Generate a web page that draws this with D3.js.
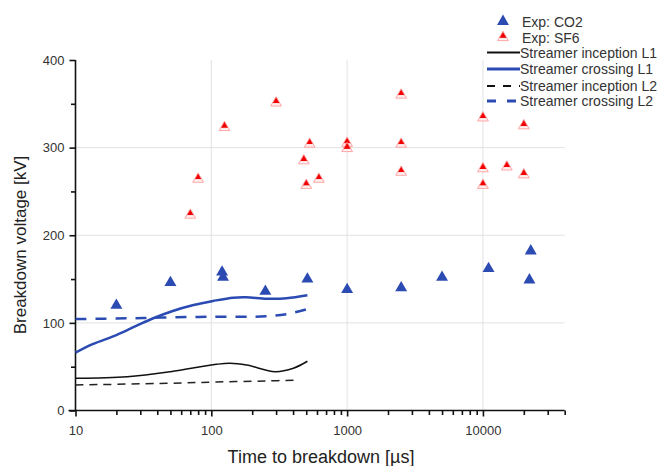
<!DOCTYPE html>
<html>
<head>
<meta charset="utf-8">
<script src="https://cdn.jsdelivr.net/npm/d3@7"></script>
<style>
  body { margin: 0; background: #fff; }
  svg { font-family: Arial, "Liberation Sans", sans-serif; }
</style>
</head>
<body>
<svg width="657" height="466"></svg>
<script>
// experiment: CO2 (time in µs, voltage in kV)
var co2Time = [20, 50, 120, 122, 250, 510, 1000, 2500, 5000, 11000, 22000, 22500];
var co2Volt = [120, 146, 158, 152, 136, 150, 138, 140, 152, 162, 149, 182];

// experiment: SF6
var sf6Time = [70, 80, 125, 300, 480, 500, 530, 620, 1000, 1000, 2500, 2500, 2500, 10000, 10000, 10000, 15000, 20000, 20000];
var sf6Volt = [223, 264, 323, 351, 285, 257, 304, 264, 305, 299, 360, 304, 272, 334, 276, 257, 278, 325, 269];

// model curves
var incL1Time = [10, 24, 50, 109, 137, 182, 295, 402, 510];
var incL1Volt = [36.8, 38.6, 44.3, 52.7, 53.9, 51.9, 44.3, 48.2, 56.2];
var crossL1Time = [10, 13.5, 20, 28, 37, 52, 74, 103, 145, 181, 256, 358, 510];
var crossL1Volt = [66, 76, 86, 96.5, 105, 113.6, 120.4, 125, 128.8, 129.2, 127.6, 128.1, 131.5];
var incL2Time = [10, 50, 109, 251, 430];
var incL2Volt = [29.1, 31.1, 32.5, 33.7, 34.8];
var crossL2Time = [10, 24, 42, 98, 251, 358, 505];
var crossL2Volt = [104.4, 105.2, 106, 107, 107.5, 110, 115.5];

var xTicks = [10, 100, 1000, 10000];
var yTicks = [0, 100, 200, 300, 400];

var blue = "#2b4bb3";
var svg = d3.select("svg");

var x = d3.scaleLog().domain([10, 40000]).range([75.5, 564.7]);
var y = d3.scaleLinear().domain([0, 400]).range([410.5, 60]);

// gridlines
var grid = svg.append("g").attr("stroke", "#e2e2e2").attr("stroke-width", 1);
grid.selectAll(".gx").data([100, 1000, 10000]).enter().append("line")
    .attr("x1", function(d) { return x(d); }).attr("x2", function(d) { return x(d); })
    .attr("y1", y(400)).attr("y2", y(0));
grid.selectAll(".gy").data([100, 200, 300]).enter().append("line")
    .attr("x1", x(10)).attr("x2", x(40000))
    .attr("y1", function(d) { return y(d); }).attr("y2", function(d) { return y(d); });

// axes
var minorX = [];
[10, 100, 1000, 10000].forEach(function(b) {
    for (var k = 2; k <= 9; k++) if (b * k <= 40000) minorX.push(b * k);
});

var xAxis = svg.append("g")
    .attr("transform", "translate(0," + y(0) + ")")
    .call(d3.axisBottom(x).tickValues(xTicks).tickFormat(d3.format("d")).tickSize(6).tickPadding(9));
svg.append("g")
    .attr("transform", "translate(0," + y(0) + ")")
    .call(d3.axisBottom(x).tickValues(minorX).tickFormat("").tickSize(4.5))
    .select(".domain").remove();

var yAxis = svg.append("g")
    .attr("transform", "translate(" + x(10) + ",0)")
    .call(d3.axisLeft(y).tickValues(yTicks).tickSize(6).tickPadding(5));
svg.append("g")
    .attr("transform", "translate(" + x(10) + ",0)")
    .call(d3.axisLeft(y).tickValues([50, 150, 250, 350]).tickFormat("").tickSize(4.5))
    .select(".domain").remove();

svg.selectAll(".domain").attr("stroke", "#111").attr("stroke-width", 1.6);
svg.selectAll(".tick line").attr("stroke", "#111").attr("stroke-width", 1.6);
svg.selectAll(".tick text").attr("fill", "#333").style("font-size", "13px")
    .style("font-family", "Arial, 'Liberation Sans', sans-serif");
xAxis.select(".domain").attr("d", "M" + (x(10) - 7) + ",0H" + x(40000));
yAxis.select(".domain").attr("d", "M0," + y(400) + "V" + y(0));

// axis titles
svg.append("text")
    .attr("x", 321).attr("y", 463)
    .attr("text-anchor", "middle")
    .attr("fill", "#222").style("font-size", "18px")
    .text("Time to breakdown [µs]");
svg.append("text")
    .attr("transform", "translate(26,245) rotate(-90)")
    .attr("text-anchor", "middle")
    .attr("fill", "#222").style("font-size", "17px")
    .text("Breakdown voltage [kV]");

// curves
var line = d3.line()
    .x(function(d) { return x(d[0]); })
    .y(function(d) { return y(d[1]); })
    .curve(d3.curveCatmullRom.alpha(0.5));

function pairs(t, v) { return t.map(function(d, i) { return [d, v[i]]; }); }

var curves = [
    { data: pairs(incL2Time, incL2Volt), color: "#222", width: 1.5, dash: "8,6" },
    { data: pairs(incL1Time, incL1Volt), color: "#111", width: 1.5, dash: null },
    { data: pairs(crossL2Time, crossL2Volt), color: blue, width: 2.5, dash: "11,9" },
    { data: pairs(crossL1Time, crossL1Volt), color: blue, width: 2.5, dash: null }
];
svg.selectAll(".curve").data(curves).enter().append("path")
    .attr("class", "curve")
    .attr("d", function(d) { return line(d.data); })
    .attr("fill", "none")
    .attr("stroke", function(d) { return d.color; })
    .attr("stroke-width", function(d) { return d.width; })
    .attr("stroke-dasharray", function(d) { return d.dash; });

// markers
var defs = svg.append("defs");
var grad = defs.append("linearGradient").attr("id", "sf6grad")
    .attr("x1", 0).attr("y1", 0).attr("x2", 0).attr("y2", 1);
grad.append("stop").attr("offset", "0%").attr("stop-color", "#f00000");
grad.append("stop").attr("offset", "66%").attr("stop-color", "#f00000");
grad.append("stop").attr("offset", "70%").attr("stop-color", "#ffe0e0");
grad.append("stop").attr("offset", "100%").attr("stop-color", "#ffffff");

var tri = d3.symbol().type(d3.symbolTriangle).size(50);

svg.selectAll(".sf6").data(pairs(sf6Time, sf6Volt)).enter().append("path")
    .attr("class", "sf6")
    .attr("d", tri)
    .attr("transform", function(d) { return "translate(" + x(d[0]) + "," + y(d[1]) + ")"; })
    .attr("fill", "url(#sf6grad)")
    .attr("stroke", "#ff9a9a").attr("stroke-width", 0.9);

svg.selectAll(".co2").data(pairs(co2Time, co2Volt)).enter().append("path")
    .attr("class", "co2")
    .attr("d", d3.symbol().type(d3.symbolTriangle).size(62))
    .attr("transform", function(d) { return "translate(" + x(d[0]) + "," + y(d[1]) + ")"; })
    .attr("fill", blue);

// legend
var legend = svg.append("g").style("font-size", "14px").attr("fill", "#333");
var items = [
    { label: "Exp: CO2", type: "co2", y: 21.5 },
    { label: "Exp: SF6", type: "sf6", y: 37.5 },
    { label: "Streamer inception L1", type: "line", color: "#111", width: 2, dash: null, y: 52.5 },
    { label: "Streamer crossing L1", type: "line", color: blue, width: 3, dash: null, y: 69 },
    { label: "Streamer inception L2", type: "line", color: "#111", width: 2, dash: "8,8", y: 86 },
    { label: "Streamer crossing L2", type: "line", color: blue, width: 3, dash: "9,11", y: 101 }
];
items.forEach(function(it) {
    if (it.type === "co2") {
        legend.append("path").attr("d", d3.symbol().type(d3.symbolTriangle).size(62))
            .attr("transform", "translate(503," + it.y + ")").attr("fill", blue);
    } else if (it.type === "sf6") {
        legend.append("path").attr("d", tri)
            .attr("transform", "translate(503," + it.y + ")")
            .attr("fill", "url(#sf6grad)").attr("stroke", "#ff9a9a").attr("stroke-width", 0.9);
    } else {
        legend.append("line").attr("x1", 487).attr("x2", 520)
            .attr("y1", it.y).attr("y2", it.y)
            .attr("stroke", it.color).attr("stroke-width", it.width)
            .attr("stroke-dasharray", it.dash);
    }
    legend.append("text").attr("x", it.type === "line" ? 520 : 522).attr("y", it.y + 5).text(it.label);
});
</script>
</body>
</html>
